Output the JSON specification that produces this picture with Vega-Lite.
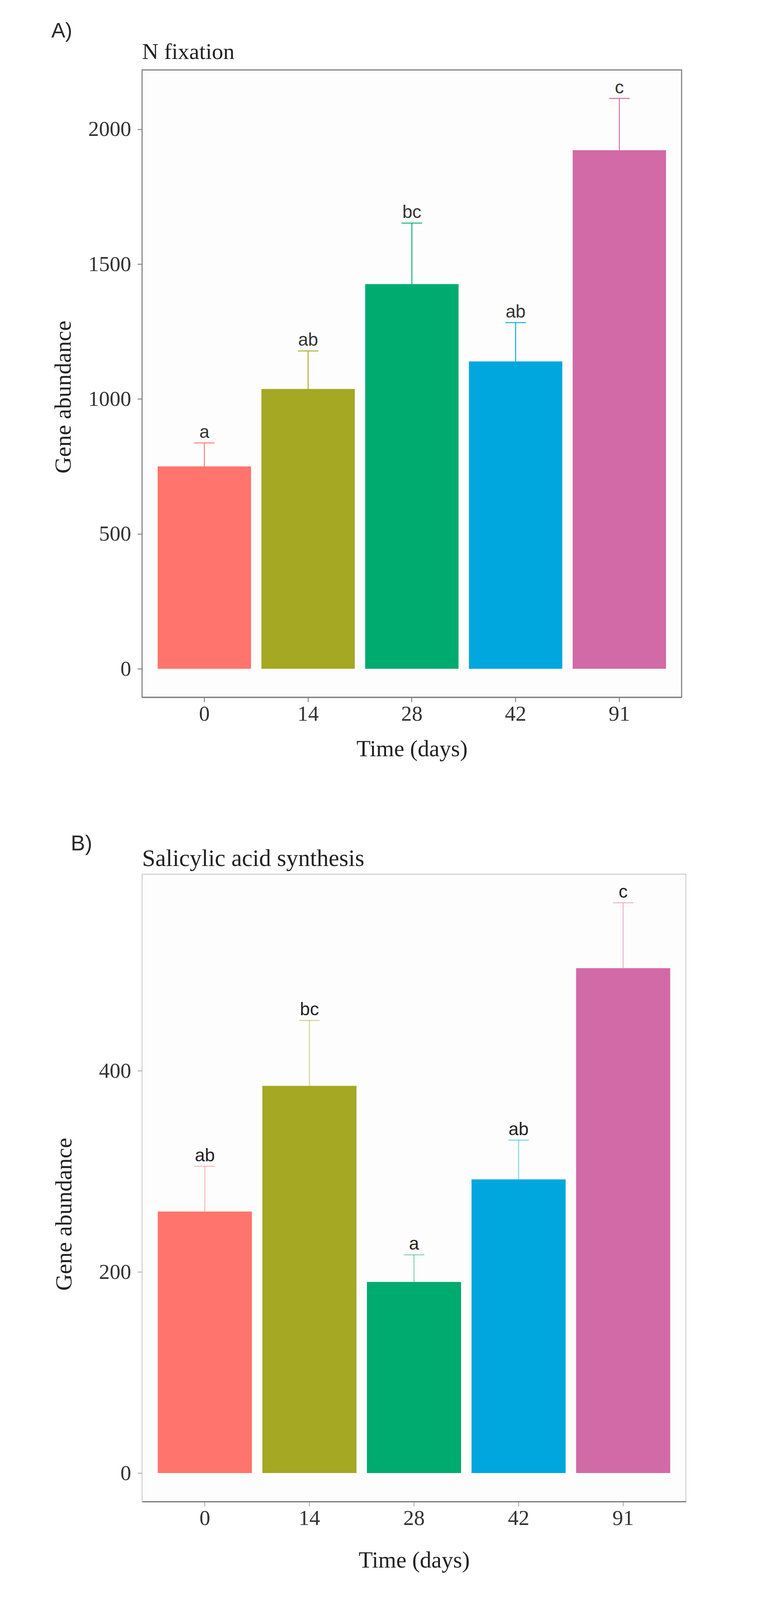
{
  "$schema": "https://vega.github.io/schema/vega-lite/v6.json",
  "background": "white",
  "padding": {"left": 131, "top": 52, "right": 0, "bottom": 0},
  "spacing": 184,
  "resolve": {"scale": {"x": "independent", "y": "independent", "color": "independent"}},
  "config": {
    "font": "Liberation Serif",
    "axis": {
      "labelFont": "Liberation Serif",
      "labelFontSize": 55,
      "labelColor": "#333333",
      "titleFont": "Liberation Serif",
      "titleFontSize": 59,
      "titleFontWeight": "normal",
      "titleColor": "#222222",
      "grid": false
    }
  },
  "vconcat": [
    {
      "title": {"text": "A)", "anchor": "start", "frame": "bounds", "font": "Liberation Sans", "fontSize": 53.5, "fontWeight": "normal", "color": "#2b2b2b", "baseline": "alphabetic", "offset": -46},
      "vconcat": [
        {
          "width": 1382,
          "height": 1606,
          "view": {"stroke": "#808080", "strokeWidth": 2.8, "fill": "#fdfdfd"},
          "title": {"text": "N fixation", "anchor": "start", "frame": "group", "font": "Liberation Serif", "fontSize": 58, "fontWeight": "normal", "color": "#222222", "baseline": "alphabetic", "offset": -29.5},
          "data": {"values": [
            {"time": "0", "mean": 750, "upper": 837, "letter": "a"},
            {"time": "14", "mean": 1037, "upper": 1178, "letter": "ab"},
            {"time": "28", "mean": 1426, "upper": 1652, "letter": "bc"},
            {"time": "42", "mean": 1139, "upper": 1283, "letter": "ab"},
            {"time": "91", "mean": 1922, "upper": 2114, "letter": "c"}
          ]},
          "encoding": {
            "x": {"field": "time", "type": "ordinal", "sort": ["0", "14", "28", "42", "91"],
              "scale": {"paddingInner": 0.1, "paddingOuter": 0.15},
              "axis": {"title": "Time (days)", "labelAngle": 0, "domain": true, "domainColor": "#808080", "domainWidth": 2.8, "tickColor": "#808080", "tickWidth": 2.3, "tickSize": 12, "labelPadding": 4, "titleBaseline": "alphabetic", "titleY": 150}},
            "color": {"field": "time", "type": "nominal", "sort": ["0", "14", "28", "42", "91"],
              "scale": {"domain": ["0", "14", "28", "42", "91"], "range": ["#FF746C", "#A4A822", "#00AB70", "#00A7DE", "#D26AA7"]}, "legend": null}
          },
          "layer": [
            {
              "mark": {"type": "bar"},
              "encoding": {
                "y": {"field": "mean", "type": "quantitative",
                  "scale": {"domain": [-105.7, 2219.7], "nice": false, "zero": false},
                  "axis": {"title": "Gene abundance", "values": [0, 500, 1000, 1500, 2000], "format": "d", "domain": false, "tickColor": "#808080", "tickWidth": 2.3, "tickSize": 12, "labelPadding": 16.5, "titleBaseline": "alphabetic", "titleX": -184, "titleY": 837}},
                "y2": {"datum": 0}
              }
            },
            {
              "mark": {"type": "rule", "strokeWidth": 2.8, "opacity": 0.85},
              "encoding": {"y": {"field": "mean", "type": "quantitative"}, "y2": {"field": "upper"}}
            },
            {
              "mark": {"type": "tick", "thickness": 2.8, "size": 52.5, "opacity": 0.85},
              "encoding": {"y": {"field": "upper", "type": "quantitative"}}
            },
            {
              "mark": {"type": "text", "font": "Liberation Sans", "fontSize": 46, "baseline": "alphabetic", "dy": -13, "color": "#333333"},
              "encoding": {"y": {"field": "upper", "type": "quantitative"}, "text": {"field": "letter"}, "color": {"value": "#333333"}}
            }
          ]
        }
      ]
    },
    {
      "title": {"text": "B)", "anchor": "start", "frame": "bounds", "font": "Liberation Sans", "fontSize": 55, "fontWeight": "normal", "color": "#2b2b2b", "baseline": "alphabetic", "offset": -66, "dx": 47},
      "vconcat": [
        {
          "width": 1393,
          "height": 1606,
          "view": {"stroke": "#cccccc", "strokeWidth": 2.3, "fill": "#fdfdfd"},
          "title": {"text": "Salicylic acid synthesis", "anchor": "start", "frame": "group", "font": "Liberation Serif", "fontSize": 61, "fontWeight": "normal", "color": "#222222", "baseline": "alphabetic", "offset": -39.5},
          "data": {"values": [
            {"time": "0", "mean": 260, "upper": 305, "letter": "ab"},
            {"time": "14", "mean": 385, "upper": 450, "letter": "bc"},
            {"time": "28", "mean": 190, "upper": 217, "letter": "a"},
            {"time": "42", "mean": 292, "upper": 331, "letter": "ab"},
            {"time": "91", "mean": 502, "upper": 567, "letter": "c"}
          ]},
          "encoding": {
            "x": {"field": "time", "type": "ordinal", "sort": ["0", "14", "28", "42", "91"],
              "scale": {"paddingInner": 0.1, "paddingOuter": 0.15},
              "axis": {"title": "Time (days)", "labelAngle": 0, "domain": true, "domainColor": "#7a7a7a", "domainWidth": 2.8, "tickColor": "#b0b0b0", "tickWidth": 2.3, "tickSize": 12, "labelPadding": 4, "titleBaseline": "alphabetic", "titleY": 168}},
            "color": {"field": "time", "type": "nominal", "sort": ["0", "14", "28", "42", "91"],
              "scale": {"domain": ["0", "14", "28", "42", "91"], "range": ["#FF746C", "#A4A822", "#00AB70", "#00A7DE", "#D26AA7"]}, "legend": null}
          },
          "layer": [
            {
              "mark": {"type": "bar"},
              "encoding": {
                "y": {"field": "mean", "type": "quantitative",
                  "scale": {"domain": [-28.35, 595.4], "nice": false, "zero": false},
                  "axis": {"title": "Gene abundance", "values": [0, 200, 400], "format": "d", "domain": false, "tickColor": "#b0b0b0", "tickWidth": 2.3, "tickSize": 12, "labelPadding": 16.5, "titleBaseline": "alphabetic", "titleX": -181.5, "titleY": 870}},
                "y2": {"datum": 0}
              }
            },
            {
              "mark": {"type": "rule", "strokeWidth": 2.8, "opacity": 0.45},
              "encoding": {"y": {"field": "mean", "type": "quantitative"}, "y2": {"field": "upper"}}
            },
            {
              "mark": {"type": "tick", "thickness": 2.8, "size": 52.5, "opacity": 0.45},
              "encoding": {"y": {"field": "upper", "type": "quantitative"}}
            },
            {
              "mark": {"type": "text", "font": "Liberation Sans", "fontSize": 46, "baseline": "alphabetic", "dy": -13, "color": "#222222"},
              "encoding": {"y": {"field": "upper", "type": "quantitative"}, "text": {"field": "letter"}, "color": {"value": "#222222"}}
            }
          ]
        }
      ]
    }
  ]
}
